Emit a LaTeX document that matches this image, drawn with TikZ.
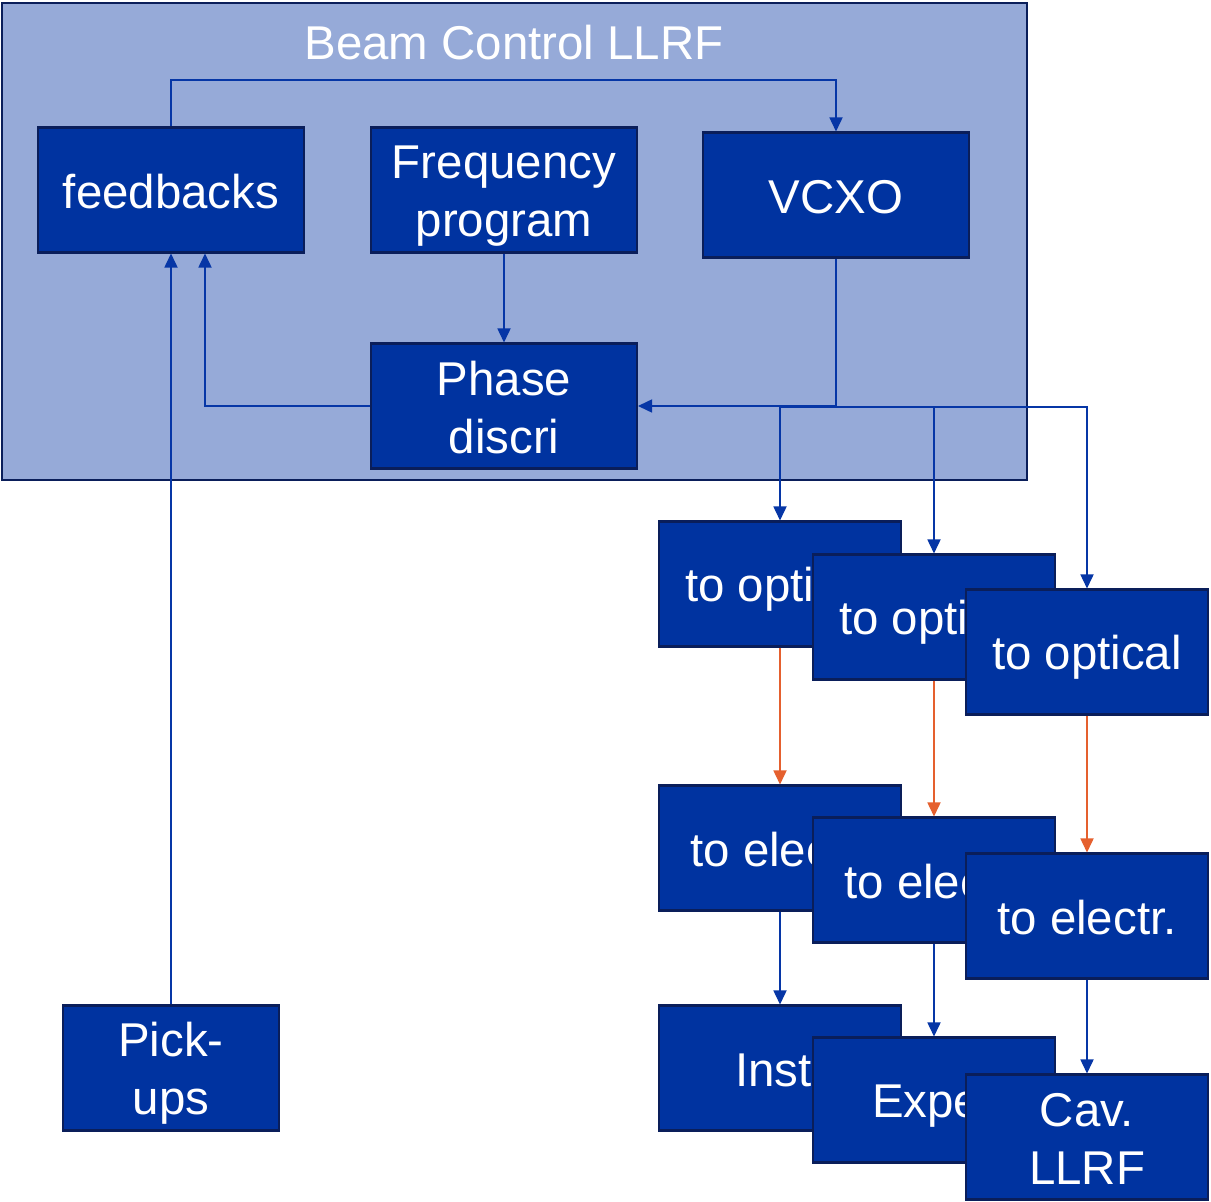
\documentclass[tikz,border=0pt]{standalone}
\usepackage{fontspec}
\setmainfont{Liberation Sans}
\usetikzlibrary{arrows.meta, positioning, calc}
\definecolor{llrfbg}{HTML}{96AAD8}
\definecolor{boxblue}{HTML}{0033A0}
\definecolor{navy}{HTML}{0A1E5A}
\definecolor{wireblue}{HTML}{0636A6}
\definecolor{optorange}{HTML}{E5602E}
\newcommand{\lnstrut}{\rule[-0.16em]{0pt}{1.11em}}

\begin{document}
\begin{tikzpicture}[
  x=0.02cm, y=-0.02cm,
  >={Triangle[length=8pt, width=7.5pt]},
  block/.style={draw=navy, fill=boxblue, line width=1.2pt, text=white,
    align=center, minimum width=4.84cm, minimum height=2.5cm, inner sep=0pt,
    font=\fontsize{27}{33}\selectfont,
    execute at begin node=\lnstrut, execute at end node=\lnstrut},
  wire/.style={wireblue, line width=0.7pt, ->},
  fiber/.style={optorange, line width=0.7pt, ->},
]

\useasboundingbox (0,0) rectangle (1211,1202);
\fill[white] (0,0) rectangle (1211,1202);

% =============================================
% Beam control LLRF crate
% =============================================
\draw[navy, fill=llrfbg, line width=1.2pt] (2,3) rectangle (1027,480);
\node[font=\fontsize{27}{33}\selectfont, text=white] (title) at (514,43)
  {Beam Control LLRF};

\node[block, minimum width=5.32cm] (feed) at (171,190) {feedbacks};
\node[block, minimum width=5.32cm] (freq) at (504,190) {\lnstrut Frequency\\program};
\node[block, minimum width=5.32cm] (vcxo) at (836,195) {VCXO};
\node[block, minimum width=5.32cm] (phase) at (504,406) {\lnstrut Phase\\discri};

% Pick-ups
\node[block, minimum width=4.32cm] (pick) at (171,1068) {\lnstrut Pick-\\ups};

% =============================================
% Distribution: three chains, drawn back to front
% =============================================
\node[block] (opt1) at (780,584) {to optical};
\node[block] (opt2) at (934,617) {to optical};
\node[block] (opt3) at (1087,652) {to optical};

\node[block] (ele1) at (780,848) {to electr.};
\node[block] (ele2) at (934,880) {to electr.};
\node[block] (ele3) at (1087,916) {to electr.};

\node[block] (inst) at (780,1068) {Inst.};
\node[block] (expe) at (934,1100) {Exper};
\node[block] (cav) at (1087,1137) {\lnstrut Cav.\\LLRF};

% Connectors inside the crate
\coordinate (loop) at (500,80);
\coordinate (split) at (836,407);
\draw[wire] (feed.north) -- (feed.north |- loop) -| (vcxo.north);
\draw[wire] (freq.south) -- (phase.north);
\draw[wire] (pick.north) -- (feed.south);
\draw[wire] (phase.west) -| ($(feed.south)+(34,0)$);
\draw[wire] (vcxo.south) |- (phase.east);

% VCXO fan-out
\draw[wire] (split) -| (opt1.north);
\draw[wire] (split) -| (opt2.north);
\draw[wire] (split) -| (opt3.north);

% Optical links
\draw[fiber] (opt1.south) -- (ele1.north);
\draw[fiber] (opt2.south) -- (ele2.north);
\draw[fiber] (opt3.south) -- (ele3.north);

% Electrical outputs
\draw[wire] (ele1.south) -- (inst.north);
\draw[wire] (ele2.south) -- (expe.north);
\draw[wire] (ele3.south) -- (cav.north);

\end{tikzpicture}
\end{document}
